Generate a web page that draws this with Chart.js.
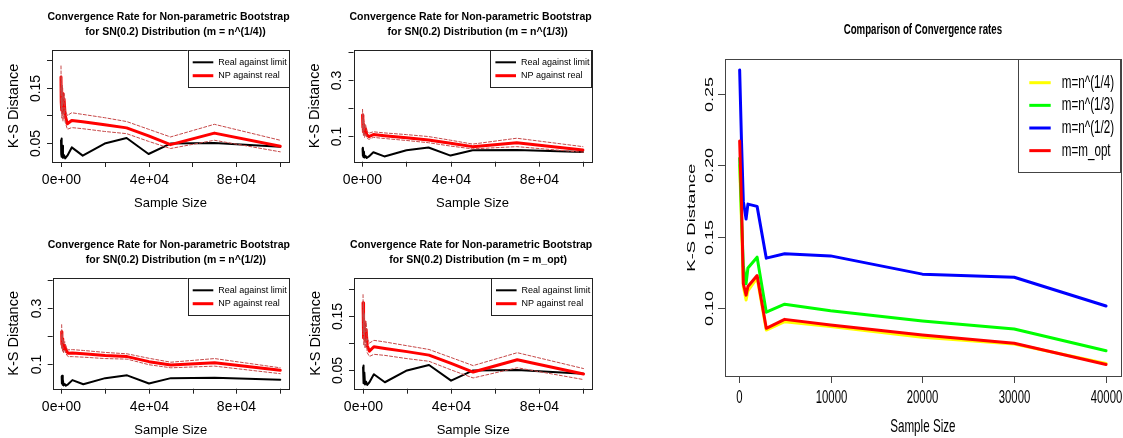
<!DOCTYPE html>
<html>
<head>
<meta charset="utf-8">
<script src="https://cdn.jsdelivr.net/npm/chart.js@4.4.0/dist/chart.umd.min.js"></script>
<style>
  html, body { margin: 0; padding: 0; background: #fff; }
  #wrap { position: relative; width: 1123px; height: 438px; overflow: hidden; }
  #wrap canvas { position: absolute; left: 0; top: 0; }
</style>
</head>
<body>
<div id="wrap">
  <canvas id="pA" width="1123" height="438"></canvas>
  <canvas id="pB" width="1123" height="438"></canvas>
  <canvas id="pC" width="1123" height="438"></canvas>
  <canvas id="pD" width="1123" height="438"></canvas>
  <canvas id="pE" width="1123" height="438"></canvas>
</div>
<script>
// sample sizes used in the four small panels
const smallN = [100, 200, 300, 500, 700, 1000, 1500, 2000, 3000, 5000, 10000, 20000, 30000, 40000, 50000, 70000, 100000];

// real against limit (same curve in each small panel)
const realLimit = [0.055, 0.030, 0.058, 0.025, 0.045, 0.023, 0.028, 0.022, 0.027, 0.042, 0.027, 0.049, 0.059, 0.030, 0.049, 0.050, 0.043];

// NP against real, with upper / lower bands
const npQuarter   = [0.170, 0.125, 0.150, 0.110, 0.140, 0.105, 0.130, 0.100, 0.085, 0.091, 0.0885, 0.083, 0.0775, 0.063, 0.047, 0.068, 0.044];
const npQuarterHi = [0.190, 0.140, 0.170, 0.125, 0.155, 0.120, 0.140, 0.110, 0.100, 0.105, 0.102, 0.096, 0.089, 0.075, 0.061, 0.084, 0.055];
const npQuarterLo = [0.150, 0.110, 0.130, 0.095, 0.125, 0.090, 0.115, 0.088, 0.075, 0.078, 0.076, 0.071, 0.067, 0.053, 0.040, 0.055, 0.034];

const npThird   = [0.175, 0.130, 0.160, 0.115, 0.140, 0.110, 0.125, 0.105, 0.098, 0.105, 0.101, 0.094, 0.086, 0.074, 0.062, 0.076, 0.050];
const npThirdHi = [0.195, 0.150, 0.180, 0.130, 0.155, 0.125, 0.140, 0.118, 0.110, 0.115, 0.111, 0.105, 0.098, 0.085, 0.071, 0.092, 0.062];
const npThirdLo = [0.155, 0.115, 0.140, 0.100, 0.125, 0.095, 0.110, 0.093, 0.088, 0.095, 0.091, 0.084, 0.076, 0.064, 0.054, 0.062, 0.042];

const npHalf   = [0.215, 0.170, 0.190, 0.160, 0.175, 0.155, 0.165, 0.150, 0.138, 0.139, 0.136, 0.130, 0.126, 0.108, 0.096, 0.104, 0.077];
const npHalfHi = [0.240, 0.190, 0.210, 0.175, 0.190, 0.170, 0.180, 0.162, 0.150, 0.151, 0.148, 0.141, 0.136, 0.120, 0.106, 0.119, 0.086];
const npHalfLo = [0.195, 0.155, 0.170, 0.145, 0.160, 0.140, 0.150, 0.137, 0.126, 0.126, 0.124, 0.119, 0.117, 0.097, 0.086, 0.092, 0.065];

const npOpt   = [0.175, 0.130, 0.160, 0.110, 0.140, 0.105, 0.125, 0.095, 0.085, 0.093, 0.090, 0.084, 0.0775, 0.062, 0.046, 0.069, 0.0425];
const npOptHi = [0.190, 0.145, 0.175, 0.125, 0.155, 0.120, 0.140, 0.108, 0.100, 0.105, 0.102, 0.095, 0.088, 0.073, 0.058, 0.082, 0.0525];
const npOptLo = [0.155, 0.115, 0.140, 0.095, 0.125, 0.090, 0.110, 0.082, 0.075, 0.079, 0.077, 0.071, 0.066, 0.050, 0.035, 0.054, 0.032];

// comparison panel
const bigN = [100, 300, 500, 800, 1000, 2000, 3000, 5000, 10000, 20000, 30000, 40000];
const mQuarter = [0.200, 0.160, 0.115, 0.1056, 0.112, 0.121, 0.0845, 0.0904, 0.087, 0.0794, 0.0747, 0.0611];
const mThird   = [0.205, 0.165, 0.129, 0.117, 0.128, 0.1356, 0.097, 0.1026, 0.098, 0.0909, 0.0852, 0.070];
const mHalf    = [0.2668, 0.2169, 0.1747, 0.1623, 0.1728, 0.1712, 0.1349, 0.138, 0.1365, 0.1237, 0.1215, 0.1014];
const mOpt     = [0.217, 0.1735, 0.117, 0.109, 0.115, 0.1227, 0.0857, 0.092, 0.088, 0.081, 0.0752, 0.0604];

// tick values and labels
const xTicksSmall = [0, 20000, 40000, 60000, 80000, 100000];
const xLabelsSmall = ['0e+00', '', '4e+04', '', '8e+04', ''];
const yTicksLow = [0.05, 0.10, 0.15, 0.20];
const yLabelsLow = ['0.05', '', '0.15', ''];
const yTicksHigh = [0.1, 0.2, 0.3, 0.4];
const yLabelsHigh = ['0.1', '', '0.3', ''];
const xTicksBig = [0, 10000, 20000, 30000, 40000];
const xLabelsBig = ['0', '10000', '20000', '30000', '40000'];
const yTicksBig = [0.10, 0.15, 0.20, 0.25];
const yLabelsBig = ['0.10', '0.15', '0.20', '0.25'];

const FONT = '"Liberation Sans", Arial, Helvetica, sans-serif';

function pts(xs, ys) {
  return xs.map((x, i) => ({ x: x, y: ys[i] }));
}

function txt(ctx, s, px, py, rot, sx) {
  ctx.save();
  ctx.translate(px, py);
  ctx.scale(sx, 1);
  if (rot) ctx.rotate(-Math.PI / 2);
  ctx.fillText(s, 0, 0);
  ctx.restore();
}

// R style frame, axes, titles and legend
const rAxes = {
  id: 'rAxes',
  afterDatasetsDraw(chart, args, o) {
    const { ctx, chartArea: a } = chart;
    const x = chart.scales.x, y = chart.scales.y;
    const sx = o.squash;
    ctx.save();
    ctx.strokeStyle = o.frame;
    ctx.lineWidth = 1;
    ctx.strokeRect(Math.round(a.left) + 0.5, Math.round(a.top) + 0.5,
      Math.round(a.right - a.left), Math.round(a.bottom - a.top));

    ctx.fillStyle = '#000';
    ctx.textAlign = 'center';
    ctx.textBaseline = 'middle';

    // x axis
    ctx.font = o.tickFont;
    o.xTicks.forEach((v, i) => {
      const px = Math.round(x.getPixelForValue(v)) + 0.5;
      ctx.beginPath();
      ctx.moveTo(px, a.bottom);
      ctx.lineTo(px, a.bottom + o.tick);
      ctx.stroke();
      if (o.xLabels[i]) txt(ctx, o.xLabels[i], px, a.bottom + o.xLabOff, false, sx);
    });
    // y axis
    o.yTicks.forEach((v, i) => {
      const py = Math.round(y.getPixelForValue(v)) + 0.5;
      ctx.beginPath();
      ctx.moveTo(a.left, py);
      ctx.lineTo(a.left - o.tick, py);
      ctx.stroke();
      if (o.yLabels[i]) txt(ctx, o.yLabels[i], a.left - o.yLabOff, py, true, sx);
    });

    // axis titles
    const cx = (a.left + a.right) / 2, cy = (a.top + a.bottom) / 2;
    ctx.font = o.xlabFont;
    txt(ctx, 'Sample Size', cx, a.bottom + o.xTitleOff, false, sx);
    ctx.font = o.ylabFont;
    txt(ctx, 'K-S Distance', a.left - o.yTitleOff, cy, true, sx);

    // main title
    ctx.font = o.titleFont;
    o.title.forEach((t, i) => txt(ctx, t, cx + o.titleDx[i], a.top - o.titleOff[i], false, sx));

    // legend
    const lg = o.legend;
    const lx = a.right - lg.w, ly = a.top;
    ctx.fillStyle = '#fff';
    ctx.fillRect(lx, ly, lg.w, lg.h);
    ctx.strokeStyle = o.frame;
    ctx.strokeRect(Math.round(lx) + 0.5, Math.round(ly) + 0.5, Math.round(lg.w), Math.round(lg.h));
    ctx.font = lg.font;
    ctx.textAlign = 'left';
    lg.items.forEach((it, i) => {
      const ry = ly + lg.row0 + i * lg.step;
      ctx.strokeStyle = it.color;
      ctx.lineWidth = it.width;
      ctx.beginPath();
      ctx.moveTo(lx + lg.l0, ry);
      ctx.lineTo(lx + lg.l1, ry);
      ctx.stroke();
      ctx.fillStyle = '#000';
      ctx.save();
      ctx.translate(lx + lg.tx, ry);
      ctx.scale(sx, 1);
      ctx.fillText(it.text, 0, 0);
      ctx.restore();
    });
    ctx.restore();
  }
};

const DASH_RED = '#c64848';

function smallPanel(id, box, ymin, ymax, yTicks, yLabels, subtitle, np, hi, lo) {
  const [L, T, R, B] = box;
  return new Chart(document.getElementById(id), {
    type: 'line',
    data: {
      datasets: [
        { data: pts(smallN, hi), borderColor: DASH_RED, borderWidth: 1, borderDash: [3, 2], order: 0 },
        { data: pts(smallN, lo), borderColor: DASH_RED, borderWidth: 1, borderDash: [3, 2], order: 1 },
        { data: pts(smallN, np), borderColor: '#ff0000', borderWidth: 3, order: 2 },
        { data: pts(smallN, realLimit), borderColor: '#000000', borderWidth: 2, order: 3 }
      ]
    },
    options: {
      responsive: false,
      animation: false,
      events: [],
      layout: { padding: { left: L, top: T, right: 1123 - R, bottom: 438 - B } },
      elements: { point: { radius: 0 }, line: { tension: 0, borderJoinStyle: 'round', borderCapStyle: 'round' } },
      scales: {
        x: { type: 'linear', min: -4000, max: 104000, display: false },
        y: { type: 'linear', min: ymin, max: ymax, display: false }
      },
      plugins: {
        legend: { display: false },
        tooltip: { enabled: false },
        rAxes: {
          squash: 1,
          frame: '#222',
          tick: 5,
          xTicks: xTicksSmall, xLabels: xLabelsSmall,
          yTicks: yTicks, yLabels: yLabels,
          tickFont: '14px ' + FONT,
          xlabFont: '13px ' + FONT,
          ylabFont: '14.5px ' + FONT,
          titleFont: 'bold 10.5px ' + FONT,
          xLabOff: 18, yLabOff: 16, xTitleOff: 41.5, yTitleOff: 38.5,
          title: ['Convergence Rate for Non-parametric Bootstrap', subtitle],
          titleDx: [-2, 5], titleOff: [33, 18],
          legend: {
            w: 101.3, h: 37.3, l0: 5, l1: 25.6, tx: 30.6, row0: 12.3, step: 13.4,
            font: '9px ' + FONT,
            items: [
              { text: 'Real against limit', color: '#000', width: 2 },
              { text: 'NP against real', color: '#ff0000', width: 3 }
            ]
          }
        }
      }
    },
    plugins: [rAxes]
  });
}

smallPanel('pA', [52, 50, 289, 162], 0.0155, 0.219, yTicksLow, yLabelsLow,
  'for SN(0.2) Distribution (m = n^(1/4))', npQuarter, npQuarterHi, npQuarterLo);
smallPanel('pB', [353.5, 50, 591.7, 161.7], 0.0082, 0.407, yTicksHigh, yLabelsHigh,
  'for SN(0.2) Distribution (m = n^(1/3))', npThird, npThirdHi, npThirdLo);
smallPanel('pC', [52.7, 278, 289, 388.7], 0.0113, 0.407, yTicksHigh, yLabelsHigh,
  'for SN(0.2) Distribution (m = n^(1/2))', npHalf, npHalfHi, npHalfLo);
smallPanel('pD', [354, 278, 592.3, 388.7], 0.015, 0.221, yTicksLow, yLabelsLow,
  'for SN(0.2) Distribution (m = m_opt)', npOpt, npOptHi, npOptLo);

// comparison panel
const big = [
  { text: 'm=n^(1/4)', color: '#ffff00', vals: mQuarter },
  { text: 'm=n^(1/3)', color: '#00ff00', vals: mThird },
  { text: 'm=n^(1/2)', color: '#0000ff', vals: mHalf },
  { text: 'm=m_opt', color: '#ff0000', vals: mOpt }
];

new Chart(document.getElementById('pE'), {
  type: 'line',
  data: {
    datasets: big.map((s, i) => ({
      data: pts(bigN, s.vals), borderColor: s.color, borderWidth: 3, order: 3 - i
    }))
  },
  options: {
    responsive: false,
    animation: false,
    events: [],
    layout: { padding: { left: 725, top: 59.3, right: 1123 - 1120.7, bottom: 438 - 376 } },
    elements: { point: { radius: 0 }, line: { tension: 0, borderJoinStyle: 'round', borderCapStyle: 'round' } },
    scales: {
      x: { type: 'linear', min: -1496, max: 41596, display: false },
      y: { type: 'linear', min: 0.0523, max: 0.2743, display: false }
    },
    plugins: {
      legend: { display: false },
      tooltip: { enabled: false },
      rAxes: {
        squash: 0.63,
        frame: '#444',
        tick: 7,
        xTicks: xTicksBig, xLabels: xLabelsBig,
        yTicks: yTicksBig, yLabels: yLabelsBig,
        tickFont: '18px ' + FONT,
        xlabFont: '18.5px ' + FONT,
        ylabFont: '18.5px ' + FONT,
        titleFont: 'bold 15.4px ' + FONT,
        xLabOff: 22, yLabOff: 15, xTitleOff: 50.7, yTitleOff: 33.3,
        title: ['Comparison of Convergence rates'],
        titleDx: [0], titleOff: [29.3],
        legend: {
          w: 102.4, h: 113.4, l0: 11, l1: 32.4, tx: 43.4, row0: 23.4, step: 22.65,
          font: '18.5px ' + FONT,
          items: big.map(s => ({ text: s.text, color: s.color, width: 3 }))
        }
      }
    }
  },
  plugins: [rAxes]
});
</script>
</body>
</html>
